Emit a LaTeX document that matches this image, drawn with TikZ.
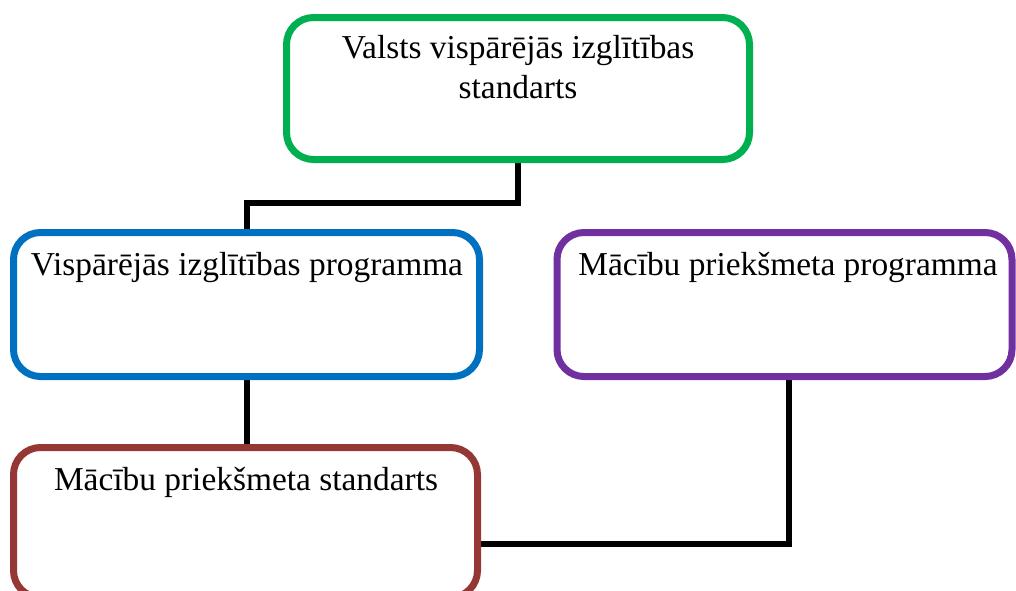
\documentclass[tikz,border=0pt]{standalone}
\usepackage{fontspec}
\setmainfont{Liberation Serif}
\usetikzlibrary{backgrounds}
\definecolor{boxgreen}{HTML}{00B050}
\definecolor{boxblue}{HTML}{0070C0}
\definecolor{boxpurple}{HTML}{7030A0}
\definecolor{boxred}{HTML}{953735}
\begin{document}
\begin{tikzpicture}[x=1pt,y=-1pt,
  box/.style={draw, line width=7pt, rounded corners=27pt, fill=white,
    inner sep=0pt, minimum height=144pt},
  link/.style={draw=black, line width=6pt},
  caption/.style={font=\fontsize{33.4}{40}\selectfont, anchor=base,
    inner sep=0pt, align=center}]
\useasboundingbox (0,0) rectangle (1016,590);

% boxes
\node[box, draw=boxgreen,  minimum width=463pt, minimum height=142pt] (green)  at (518,88.5) {};
\node[box, draw=boxblue,   minimum width=466pt] (blue)   at (246.5,304.5) {};
\node[box, draw=boxpurple, minimum width=455pt] (purple) at (784.5,304.5) {};
\node[box, draw=boxred,    minimum width=464pt, minimum height=150pt] (red) at (245.5,522.5) {};

% captions (a two-line caption sits on the baseline of its last line)
\node[caption] (tgreen)  at (518,98)  {Valsts vispārējās izglītības\\standarts};
\node[caption] (tblue)   at (247,275) {Vispārējās izglītības programma};
\node[caption] (tpurple) at (788,275) {Mācību priekšmeta programma};
\node[caption] (tred)    at (246,490) {Mācību priekšmeta standarts};

% connectors, behind the boxes
\coordinate (j1) at (382,202.5);
\coordinate (j3) at (789,544);
\begin{scope}[on background layer]
  \draw[link] (green.south) |- (j1) -| (blue.north);
  \draw[link] (blue.south) -- (blue.south |- red.north);
  \draw[link] (red.east |- j3) -- (j3) -- (j3 |- purple.south);
\end{scope}
\end{tikzpicture}
\end{document}
